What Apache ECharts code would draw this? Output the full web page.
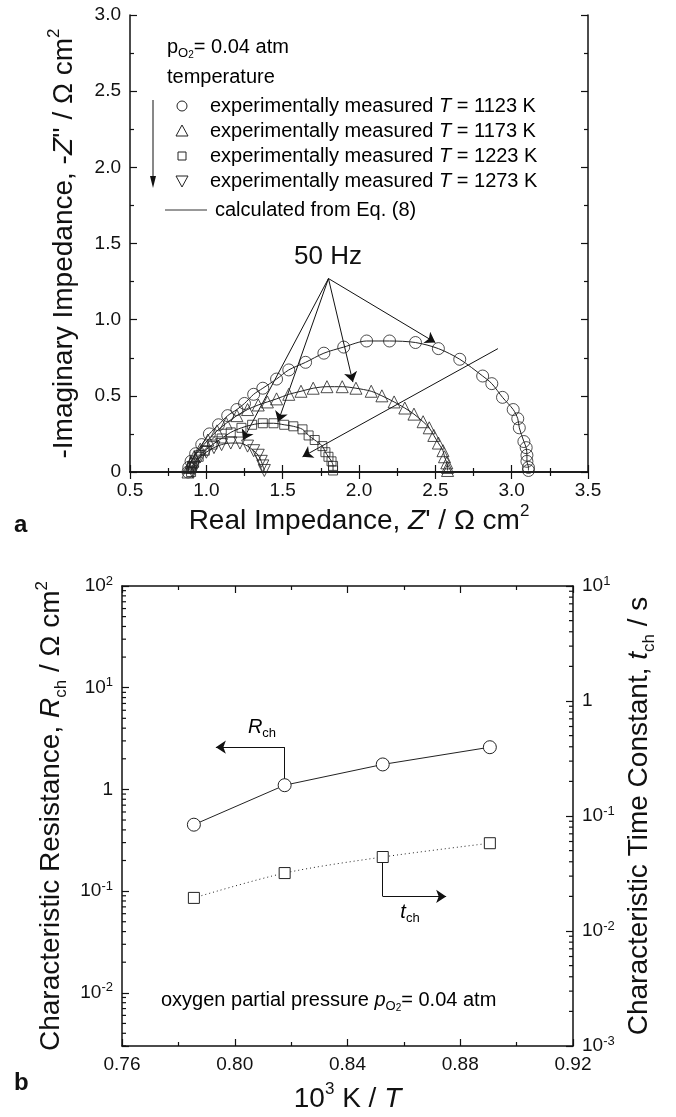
<!DOCTYPE html>
<html>
<head>
<meta charset="utf-8">
<script src="https://cdn.jsdelivr.net/npm/echarts@6/dist/echarts.min.js"></script>
<style>
html, body { margin: 0; padding: 0; background: #fff; }
#main { width: 676px; height: 1117px; }
</style>
</head>
<body>
<div id="main"></div>
<script>
// ---- panel a : impedance spectra, [Z', -Z''] in ohm cm2 ----
var nyq1123 = [[0.88,0.00],[0.885,0.03],[0.90,0.07],[0.93,0.12],[0.97,0.18],[1.02,0.25],[1.08,0.31],[1.14,0.37],[1.20,0.41],[1.25,0.45],[1.31,0.51],[1.37,0.55],[1.46,0.61],[1.54,0.67],[1.65,0.72],[1.77,0.78],[1.90,0.82],[2.05,0.86],[2.20,0.86],[2.37,0.85],[2.52,0.81],[2.66,0.74],[2.81,0.63],[2.87,0.58],[2.94,0.49],[3.01,0.41],[3.04,0.35],[3.05,0.29],[3.08,0.20],[3.095,0.16],[3.10,0.11],[3.10,0.07],[3.11,0.03],[3.11,0.01]];
var nyq1173 = [[0.88,0.00],[0.885,0.03],[0.90,0.06],[0.92,0.10],[0.96,0.15],[1.01,0.21],[1.07,0.27],[1.13,0.32],[1.20,0.37],[1.27,0.41],[1.34,0.44],[1.40,0.46],[1.46,0.48],[1.54,0.51],[1.62,0.53],[1.70,0.55],[1.79,0.56],[1.89,0.56],[1.98,0.55],[2.08,0.53],[2.15,0.50],[2.23,0.46],[2.30,0.42],[2.36,0.38],[2.42,0.33],[2.46,0.29],[2.49,0.24],[2.52,0.19],[2.55,0.14],[2.56,0.10],[2.575,0.06],[2.58,0.03],[2.58,0.01]];
var nyq1223 = [[0.90,0.00],[0.905,0.03],[0.92,0.06],[0.95,0.10],[0.99,0.14],[1.04,0.18],[1.10,0.22],[1.16,0.26],[1.23,0.29],[1.30,0.31],[1.37,0.32],[1.44,0.32],[1.51,0.31],[1.57,0.30],[1.63,0.28],[1.67,0.24],[1.71,0.21],[1.76,0.17],[1.78,0.13],[1.80,0.10],[1.82,0.07],[1.83,0.04],[1.83,0.01]];
var nyq1273 = [[0.91,0.00],[0.915,0.03],[0.93,0.06],[0.96,0.10],[1.00,0.13],[1.05,0.16],[1.10,0.18],[1.16,0.19],[1.22,0.19],[1.27,0.17],[1.31,0.14],[1.34,0.11],[1.36,0.07],[1.37,0.04],[1.38,0.01]];

// 50 Hz pointers and temperature arrow (data coords)
var hz50Apex = [1.80, 1.27];
var hz50Ends = [[2.50,0.85],[1.96,0.59],[1.47,0.33],[1.24,0.21]];
var tempArrow = [[2.91,0.81],[1.63,0.10]];

// ---- panel b : characteristic resistance and time constant ----
var invT = [0.7855, 0.8177, 0.8525, 0.8905];
var rch = [0.45, 1.10, 1.76, 2.6];
var tch = [0.0194, 0.0319, 0.044, 0.058];
var rchArrow = [[0.8177,1.10],[0.8177,2.6],[0.7933,2.6]];
var tchArrow = [[0.8525,0.044],[0.8525,0.020],[0.875,0.020]];

var FONT = '"Liberation Sans", Arial, sans-serif';

var chart = echarts.init(document.getElementById('main'));

function pairs(xs, ys) {
    return xs.map(function (x, i) { return [x, ys[i]]; });
}

// minor log ticks 2..9 x 10^k between lo and hi
function logMinors(lo, hi, edge) {
    var out = [];
    for (var k = -4; k <= 3; k++) {
        for (var m = 2; m <= 9; m++) {
            var v = m * Math.pow(10, k);
            if (v >= lo * 0.999 && v <= hi * 1.001) out.push([edge, v]);
        }
    }
    return out;
}

function logLabel(v) {
    var l = Math.log10(v);
    var e = Math.round(l);
    if (Math.abs(l - e) > 1e-6) return '';
    if (e === 0) return '{b|1}';
    return '{b|10}{s|' + e + '}';
}

var labRich = {
    b: { fontSize: 19, fontFamily: FONT, color: '#111', lineHeight: 23 },
    s: { fontSize: 13, fontFamily: FONT, color: '#111', verticalAlign: 'top', lineHeight: 13 }
};

var titleRich = {
    n: { fontSize: 28, fontFamily: FONT, color: '#111', lineHeight: 36 },
    i: { fontSize: 28, fontFamily: FONT, color: '#111', fontStyle: 'italic', lineHeight: 36 },
    sup: { fontSize: 17, fontFamily: FONT, color: '#111', verticalAlign: 'top', lineHeight: 17 },
    sub: { fontSize: 17, fontFamily: FONT, color: '#111', verticalAlign: 'bottom', lineHeight: 17 }
};

var txtRich = {
    n: { fontSize: 20, fontFamily: FONT, color: '#111', lineHeight: 26 },
    i: { fontSize: 20, fontFamily: FONT, color: '#111', fontStyle: 'italic', lineHeight: 26 },
    sub: { fontSize: 13, fontFamily: FONT, color: '#111', verticalAlign: 'bottom', lineHeight: 13 },
    sub2: { fontSize: 10, fontFamily: FONT, color: '#111', verticalAlign: 'bottom', lineHeight: 8 }
};

var axLine = { lineStyle: { color: '#111', width: 1.5 } };
var tickIn = { inside: true, length: 7, lineStyle: { color: '#111', width: 1.2 } };
var minorIn = { show: true, splitNumber: 2, length: 4, lineStyle: { color: '#111', width: 1.2 } };

function valueAxis(extra) {
    var a = {
        type: 'value', axisLine: axLine, axisTick: tickIn, minorTick: minorIn,
        splitLine: { show: false },
        axisLabel: { fontFamily: FONT, fontSize: 19, color: '#111', margin: 9 }
    };
    for (var k in extra) a[k] = extra[k];
    return a;
}

function logAxis(extra) {
    var a = {
        type: 'log', logBase: 10, axisLine: axLine,
        axisTick: { inside: true, length: 7, lineStyle: { color: '#111', width: 1.2 } },
        splitLine: { show: false },
        axisLabel: { formatter: logLabel, rich: labRich, margin: 9 }
    };
    for (var k in extra) a[k] = extra[k];
    return a;
}

var markerStyle = { color: 'rgba(0,0,0,0)', borderColor: '#222', borderWidth: 1 };
var sets = [
    { name: '1123 K', data: nyq1123, symbol: 'circle', size: 12, rot: 0 },
    { name: '1173 K', data: nyq1173, symbol: 'triangle', size: 12, rot: 0 },
    { name: '1223 K', data: nyq1223, symbol: 'rect', size: 9, rot: 0 },
    { name: '1273 K', data: nyq1273, symbol: 'triangle', size: 12, rot: 180 }
];

var series = [];
sets.forEach(function (s) {
    // calculated curve
    series.push({
        type: 'line', name: 'calc ' + s.name, xAxisIndex: 0, yAxisIndex: 0,
        data: s.data, showSymbol: false, smooth: 0.3,
        lineStyle: { color: '#222', width: 1 }, z: 2
    });
    // measured points
    series.push({
        type: 'scatter', name: s.name, xAxisIndex: 0, yAxisIndex: 0,
        data: s.data, symbol: s.symbol, symbolSize: s.size, symbolRotate: s.rot,
        itemStyle: markerStyle, z: 3
    });
});

function arrowSeries(xi, yi, segs, withHead) {
    return {
        type: 'lines', coordinateSystem: 'cartesian2d', xAxisIndex: xi, yAxisIndex: yi,
        symbol: withHead ? ['none', 'arrow'] : ['none', 'none'], symbolSize: 10,
        lineStyle: { color: '#111', width: 1, opacity: 1 },
        data: segs.map(function (c) { return { coords: c }; }), z: 2
    };
}

var arrowLines = hz50Ends.map(function (e) { return [hz50Apex, e]; });
arrowLines.push(tempArrow);
series.push(arrowSeries(0, 0, arrowLines, true));

// panel b elbow arrows
series.push(arrowSeries(2, 2, [[rchArrow[0], rchArrow[1]]], false));
series.push(arrowSeries(2, 2, [[rchArrow[1], rchArrow[2]]], true));
series.push(arrowSeries(2, 3, [[tchArrow[0], tchArrow[1]]], false));
series.push(arrowSeries(2, 3, [[tchArrow[1], tchArrow[2]]], true));

series.push({
    type: 'line', name: 'Rch', xAxisIndex: 2, yAxisIndex: 2,
    data: pairs(invT, rch), symbol: 'circle', symbolSize: 13,
    itemStyle: { color: '#fff', borderColor: '#222', borderWidth: 1 },
    lineStyle: { color: '#222', width: 1 }, z: 3
});
series.push({
    type: 'line', name: 'tch', xAxisIndex: 2, yAxisIndex: 3,
    data: pairs(invT, tch), symbol: 'rect', symbolSize: 11, smooth: 0.3,
    itemStyle: { color: '#fff', borderColor: '#222', borderWidth: 1 },
    lineStyle: { color: '#222', width: 1, type: [1, 3] }, z: 3
});

function tickRenderer(dir) {
    return function (params, api) {
        var p = api.coord([api.value(0), api.value(1)]);
        return {
            type: 'line',
            shape: { x1: p[0], y1: p[1], x2: p[0] + dir * 4, y2: p[1] },
            style: { stroke: '#111', lineWidth: 1.2 }
        };
    };
}
series.push({
    type: 'custom', xAxisIndex: 2, yAxisIndex: 2, clip: false, silent: true,
    data: logMinors(0.003, 100, 0.76), renderItem: tickRenderer(1)
});
series.push({
    type: 'custom', xAxisIndex: 2, yAxisIndex: 3, clip: false, silent: true,
    data: logMinors(0.001, 10, 0.92), renderItem: tickRenderer(-1)
});

// legend of panel a, drawn by hand
var legendRows = [
    { y: 106, T: '1123' }, { y: 131, T: '1173' }, { y: 156, T: '1223' }, { y: 181, T: '1273' }
];
var graphics = [];
legendRows.forEach(function (r) {
    graphics.push({
        type: 'text', x: 210, y: r.y,
        style: { text: '{n|experimentally measured }{i|T}{n| = ' + r.T + ' K}', rich: txtRich, verticalAlign: 'middle' }
    });
});
var gs = { fill: 'none', stroke: '#222', lineWidth: 1 };
graphics.push({ type: 'circle', shape: { cx: 182, cy: 106, r: 5 }, style: gs });
graphics.push({ type: 'polygon', shape: { points: [[176, 136], [188, 136], [182, 125]] }, style: gs });
graphics.push({ type: 'rect', shape: { x: 178, y: 152, width: 8, height: 8 }, style: gs });
graphics.push({ type: 'polygon', shape: { points: [[176, 176], [188, 176], [182, 187]] }, style: gs });
graphics.push({ type: 'line', shape: { x1: 165, y1: 210, x2: 207, y2: 210 }, style: { stroke: '#333', lineWidth: 1 } });
graphics.push({
    type: 'text', x: 215, y: 210,
    style: { text: '{n|calculated from Eq. (8)}', rich: txtRich, verticalAlign: 'middle' }
});
graphics.push({ type: 'line', shape: { x1: 153, y1: 100, x2: 153, y2: 180 }, style: { stroke: '#111', lineWidth: 1 } });
graphics.push({ type: 'polygon', shape: { points: [[150, 176], [156, 176], [153, 188]] }, style: { fill: '#111' } });
graphics.push({
    type: 'text', x: 167, y: 47,
    style: { text: '{n|p}{sub|O}{sub2|2}{n|= 0.04 atm}', rich: txtRich, verticalAlign: 'middle' }
});
graphics.push({
    type: 'text', x: 167, y: 77,
    style: { text: '{n|temperature}', rich: txtRich, verticalAlign: 'middle' }
});
graphics.push({
    type: 'text', x: 328, y: 257,
    style: { text: '50 Hz', font: '26px ' + FONT, fill: '#111', align: 'center', verticalAlign: 'middle' }
});
// panel b annotations
graphics.push({
    type: 'text', x: 262, y: 727,
    style: { text: '{i|R}{sub|ch}', rich: txtRich, align: 'center', verticalAlign: 'middle' }
});
graphics.push({
    type: 'text', x: 410, y: 912,
    style: { text: '{i|t}{sub|ch}', rich: txtRich, align: 'center', verticalAlign: 'middle' }
});
graphics.push({
    type: 'text', x: 161, y: 1000,
    style: { text: '{n|oxygen partial pressure }{i|p}{sub|O}{sub2|2}{n|= 0.04 atm}', rich: txtRich, verticalAlign: 'middle' }
});
graphics.push({
    type: 'text', x: 14, y: 525,
    style: { text: 'a', font: 'bold 24px ' + FONT, fill: '#111', verticalAlign: 'middle' }
});
graphics.push({
    type: 'text', x: 14, y: 1083,
    style: { text: 'b', font: 'bold 24px ' + FONT, fill: '#111', verticalAlign: 'middle' }
});

var option = {
    backgroundColor: '#fff',
    animation: false,
    grid: [
        { left: 130, top: 15, width: 458, height: 457 },
        { left: 122, top: 586, width: 451, height: 460 }
    ],
    xAxis: [
        valueAxis({
            gridIndex: 0, position: 'bottom', min: 0.5, max: 3.5, interval: 0.5,
            axisLabel: { fontFamily: FONT, fontSize: 19, color: '#111', margin: 9, formatter: function (v) { return v.toFixed(1); } },
            name: '{n|Real Impedance, }{i|Z}{n|\' / \u03A9 cm}{sup|2}',
            nameLocation: 'middle', nameGap: 31, nameTextStyle: { rich: titleRich }
        }),
        valueAxis({ gridIndex: 0, position: 'top', min: 0.5, max: 3.5, interval: 0.5, axisLabel: { show: false } }),
        valueAxis({
            gridIndex: 1, position: 'bottom', min: 0.76, max: 0.92, interval: 0.04,
            axisLabel: { fontFamily: FONT, fontSize: 19, color: '#111', margin: 9, formatter: function (v) { return v.toFixed(2); } },
            name: '{n|10}{sup|3}{n| K / }{i|T}',
            nameLocation: 'middle', nameGap: 35, nameTextStyle: { rich: titleRich }
        }),
        valueAxis({ gridIndex: 1, position: 'top', min: 0.76, max: 0.92, interval: 0.04, axisLabel: { show: false } })
    ],
    yAxis: [
        valueAxis({
            gridIndex: 0, position: 'left', min: 0, max: 3, interval: 0.5,
            axisLabel: { fontFamily: FONT, fontSize: 19, color: '#111', margin: 9, formatter: function (v) { return v === 0 ? '0' : v.toFixed(1); } },
            name: '{n|-Imaginary Impedance, -}{i|Z}{n|\'\' / \u03A9 cm}{sup|2}',
            nameLocation: 'middle', nameRotate: 90, nameGap: 48, nameTextStyle: { rich: titleRich }
        }),
        valueAxis({ gridIndex: 0, position: 'right', min: 0, max: 3, interval: 0.5, axisLabel: { show: false } }),
        logAxis({
            gridIndex: 1, position: 'left', min: 0.003, max: 100,
            name: '{n|Characteristic Resistance, }{i|R}{sub|ch}{n| / \u03A9 cm}{sup|2}',
            nameLocation: 'middle', nameRotate: 90, nameGap: 44, nameTextStyle: { rich: titleRich }
        }),
        logAxis({
            gridIndex: 1, position: 'right', min: 0.001, max: 10,
            name: '{n|Characteristic Time Constant, }{i|t}{sub|ch}{n| / s}',
            nameLocation: 'middle', nameRotate: 90, nameGap: 48, nameTextStyle: { rich: titleRich }
        })
    ],
    series: series,
    graphic: graphics
};

chart.setOption(option);
</script>
</body>
</html>
